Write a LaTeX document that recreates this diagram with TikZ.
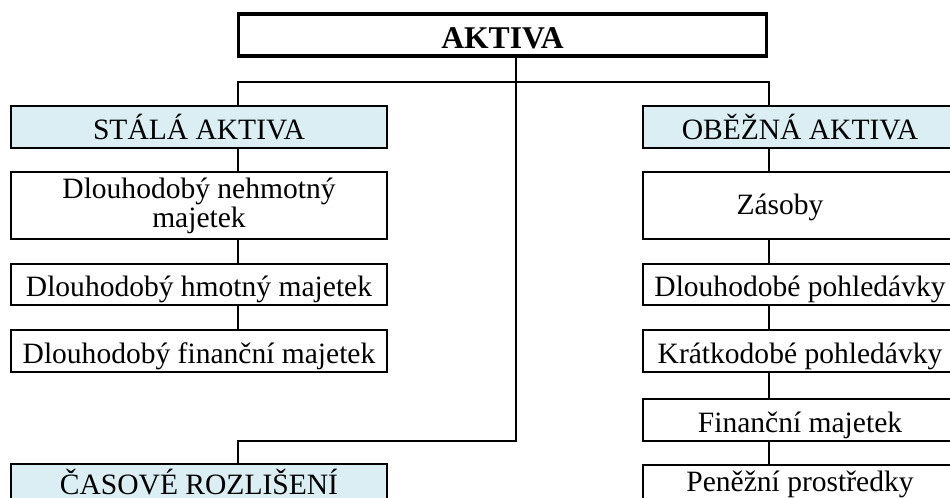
\documentclass[tikz,border=0pt]{standalone}
\usepackage{fontspec}
\setmainfont{Liberation Serif}
\definecolor{hdrblue}{HTML}{DAEEF3}

\begin{document}
\begin{tikzpicture}[x=0.025cm,y=-0.025cm,line width=1.4pt,
  box/.style={draw,inner sep=0pt,align=center,font=\fontsize{21}{20.6}\selectfont},
  one/.style={text height=0.62cm,text depth=0pt},
  lbox/.style={box,minimum width=9.4cm,minimum height=1.03cm},
  rbox/.style={box,minimum width=7.85cm,minimum height=1.03cm},
  hdr/.style={fill=hdrblue}]
\useasboundingbox (0,0) rectangle (950,498);

\node[box,line width=2.3pt,minimum width=13.2cm,minimum height=1.05cm,
  text height=0.68cm,text depth=0pt,
  font=\fontsize{22.5}{24}\selectfont\bfseries] (aktiva) at (502.5,35) {AKTIVA};

\coordinate (lbus) at (238,82);
\coordinate (rbus) at (769,82);
\coordinate (trunk) at (516,441);

% stala aktiva
\node[lbox,one,hdr] (stala) at (199,127) {STÁLÁ AKTIVA};
\node[lbox,minimum height=1.66cm] (s1) at (199,205.5) {Dlouhodobý nehmotný\\majetek};
\node[lbox,one] (s2) at (199,284.5) {Dlouhodobý hmotný majetek};
\node[lbox,one] (s3) at (199,351) {Dlouhodobý finanční majetek};
\node[lbox,one,hdr,text height=0.48cm] (cas) at (199,485) {ČASOVÉ ROZLIŠENÍ};

% obezna aktiva
\node[rbox,one,hdr] (obez) at (800,127) {OBĚŽNÁ AKTIVA};
\node[rbox,one,text height=0.475cm,minimum height=1.66cm] (o1) at (800,205.5) {Zásoby\hspace*{1cm}};
\node[rbox,one] (o2) at (800,284.5) {Dlouhodobé pohledávky};
\node[rbox,one] (o3) at (800,351) {Krátkodobé pohledávky};
\node[rbox,one] (o4) at (800,420) {Finanční majetek};
\node[rbox,one,text height=0.3cm] (o5) at (800,486) {Peněžní prostředky};

\draw (stala.north -| lbus) -- (lbus) -- (rbus) -- (obez.north -| rbus);
\draw (aktiva.south -| trunk) -- (trunk) -| (cas.north -| lbus);
\foreach \a/\b in {stala/s1,s1/s2,s2/s3}
  \draw (\a.south -| lbus) -- (\b.north -| lbus);
\foreach \a/\b in {obez/o1,o1/o2,o2/o3,o3/o4,o4/o5}
  \draw (\a.south -| rbus) -- (\b.north -| rbus);
\end{tikzpicture}
\end{document}
